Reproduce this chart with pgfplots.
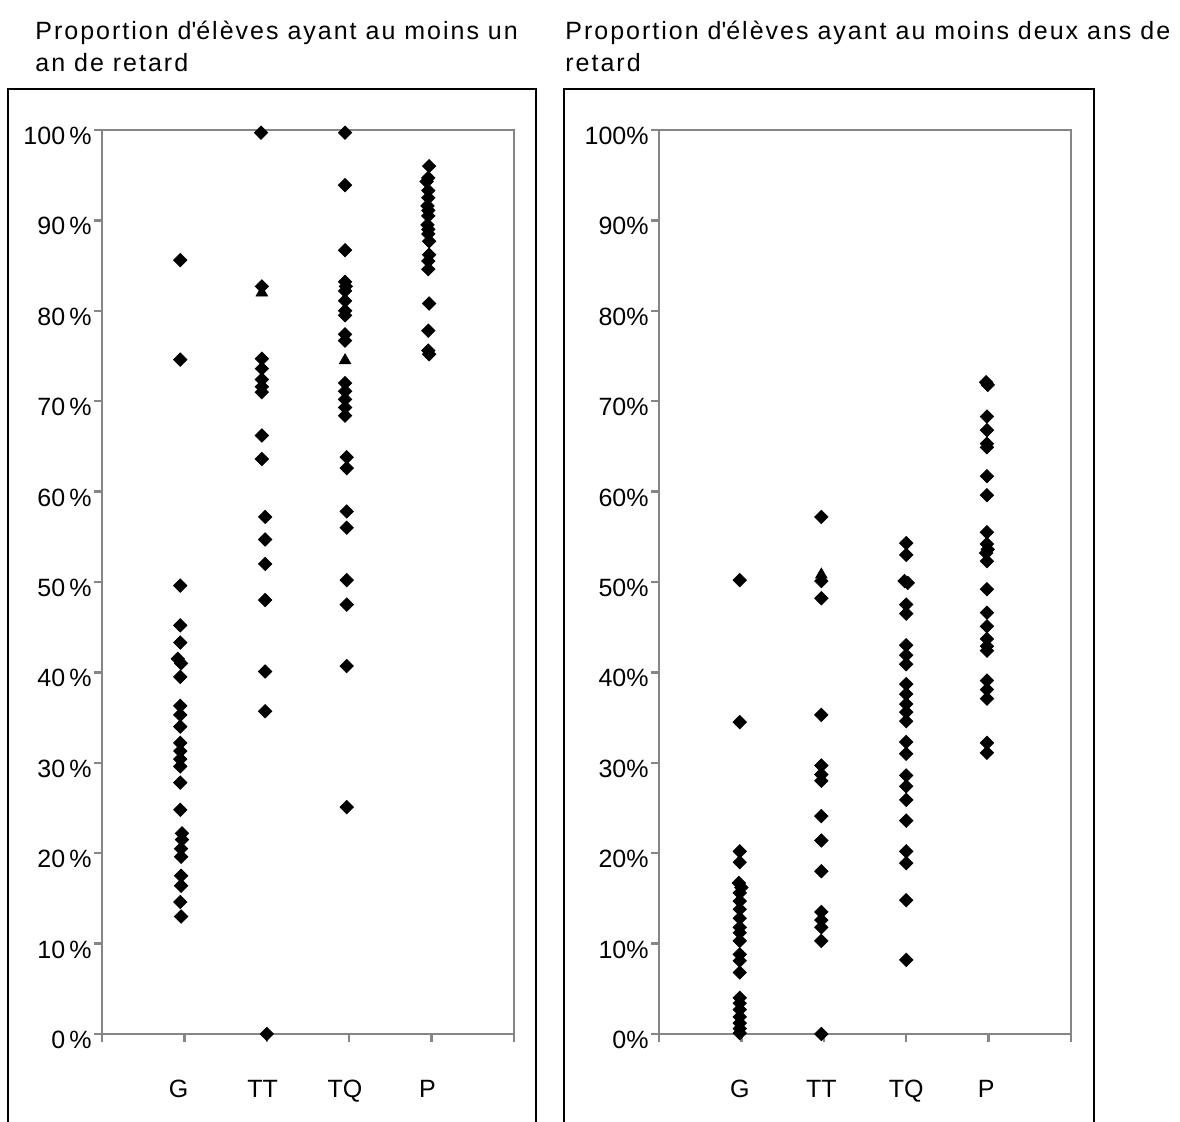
\documentclass[border=0pt]{standalone}
\usepackage{pgfplots}
\pgfplotsset{compat=1.18}
\usepackage{fontspec}
\setmainfont{Liberation Sans}
\newfontfamily\titlefont[LetterSpace=8]{Liberation Sans}
\definecolor{axgray}{HTML}{868686}
\pgfplotsset{
  panel/.style={
    scale only axis, width=206pt, height=452pt,
    xmin=0, xmax=5, ymin=0, ymax=100,
    clip=false,
    axis line style={axgray, line width=1.2pt},
    tick style={axgray, line width=1.2pt},
    tick align=outside, major tick length=4pt,
    xtick pos=left, ytick pos=left,
    xtick={0,1,2,3,4,5}, xticklabels={},
    extra x ticks={0.93,1.95,2.95,3.95},
    extra x tick labels={G,TT,TQ,P},
    extra x tick style={major tick length=0pt, xticklabel style={yshift=-19.5pt}},
    ytick={0,10,...,100},
    yticklabel style={yshift=-3pt, inner sep=1pt},
    font=\fontsize{12.5}{15}\selectfont,
    ticklabel style={font=\fontsize{12.5}{15}\selectfont},
  },
  dia/.style={only marks, mark=square*, mark size=2.35pt, mark options={rotate=45, fill=black, draw=black}},
  tri/.style={only marks, mark=triangle*, mark size=3.3pt, mark options={fill=black, draw=black}},
}
\begin{document}
\begin{tikzpicture}
\useasboundingbox (0,0) rectangle (590pt,561pt);
% outer frames
\draw[black, line width=1pt] (4pt,-2pt) -- (4pt,516.5pt) -- (268pt,516.5pt) -- (268pt,-2pt);
\draw[black, line width=1pt] (282pt,-2pt) -- (282pt,516.5pt) -- (547pt,516.5pt) -- (547pt,-2pt);
% titles
\node[anchor=base west, inner sep=0pt, font=\titlefont\fontsize{12.5}{15}\selectfont] at (17.5pt,541pt) {Proportion d\textquotesingle élèves ayant au moins un};
\node[anchor=base west, inner sep=0pt, font=\titlefont\fontsize{12.5}{15}\selectfont] at (17.5pt,525pt) {an de retard};
\node[anchor=base west, inner sep=0pt, font=\titlefont\fontsize{12.5}{15}\selectfont] at (282.5pt,541pt) {Proportion d\textquotesingle élèves ayant au moins deux ans de};
\node[anchor=base west, inner sep=0pt, font=\titlefont\fontsize{12.5}{15}\selectfont] at (282.5pt,525pt) {retard};

\begin{axis}[panel, at={(51pt,44pt)}, anchor=south west,
  yticklabels={0\,\%,10\,\%,20\,\%,30\,\%,40\,\%,50\,\%,60\,\%,70\,\%,80\,\%,90\,\%,100\,\%}]
\addplot[dia] coordinates {
(0.95,85.6) (0.95,74.6) (0.95,49.6) (0.95,45.2) (0.95,43.3) (0.92,41.5) (0.96,41.0)
(0.95,39.5) (0.95,36.3) (0.95,35.3) (0.95,34.0) (0.95,32.2) (0.95,31.3) (0.95,30.4)
(0.95,29.6) (0.95,27.8) (0.95,24.8) (0.97,22.2) (0.97,21.5) (0.96,20.5) (0.96,19.6)
(0.96,17.5) (0.96,16.4) (0.95,14.6) (0.96,13.0)};
\addplot[dia] coordinates {
(1.93,99.7) (1.94,82.7) (1.94,74.7) (1.94,73.6) (1.94,72.4) (1.94,71.6) (1.94,71.0)
(1.94,66.2) (1.94,63.6) (1.98,57.2) (1.98,54.7) (1.98,52.0) (1.98,48.0) (1.98,40.1)
(1.98,35.7) (2.0,0.0)};
\addplot[tri] coordinates {(1.94,82.0)};
\addplot[dia] coordinates {
(2.95,99.7) (2.95,93.9) (2.95,86.7) (2.95,83.2) (2.96,82.7) (2.95,82.2) (2.95,81.1)
(2.95,80.0) (2.95,79.5) (2.95,77.4) (2.95,76.7) (2.95,72.0) (2.95,71.1) (2.95,70.2)
(2.95,69.3) (2.95,68.4) (2.97,63.8) (2.97,62.6) (2.97,57.8) (2.97,56.0) (2.97,50.2)
(2.97,47.5) (2.97,40.7) (2.97,25.1)};
\addplot[tri] coordinates {(2.95,74.5)};
\addplot[dia] coordinates {
(3.97,96.0) (3.96,94.7) (3.94,94.3) (3.96,93.3) (3.96,92.5) (3.95,91.6) (3.96,91.1)
(3.96,90.5) (3.95,89.5) (3.96,89.0) (3.96,88.5) (3.97,87.7) (3.97,86.2) (3.96,85.5)
(3.96,84.6) (3.97,80.8) (3.96,77.8) (3.96,75.6) (3.97,75.2)};
\end{axis}

\begin{axis}[panel, at={(329.5pt,44pt)}, anchor=south west,
  extra x ticks={0.98,1.97,3.0,3.97},
  yticklabels={0\%,10\%,20\%,30\%,40\%,50\%,60\%,70\%,80\%,90\%,100\%}]
\addplot[dia] coordinates {
(0.98,50.2) (0.98,34.5) (0.98,20.2) (0.98,19.0) (0.97,16.7) (1.0,16.2) (0.98,15.6)
(0.98,14.7) (0.98,13.8) (0.98,12.8) (0.98,11.8) (0.98,11.2) (0.98,10.3) (0.98,8.8)
(0.98,8.1) (0.98,6.8) (0.98,4.0) (0.98,3.4) (0.98,2.7) (0.98,1.9) (0.98,1.2)
(0.98,0.6) (0.98,0.1)};
\addplot[dia] coordinates {
(1.97,57.2) (1.97,50.1) (1.97,48.2) (1.97,35.3) (1.97,29.7) (1.97,28.7) (1.97,28.0)
(1.97,24.1) (1.97,21.4) (1.97,18.0) (1.97,13.5) (1.97,12.6) (1.97,11.8) (1.97,10.3)
(1.97,0.0)};
\addplot[tri] coordinates {(1.97,50.8)};
\addplot[dia] coordinates {
(3.0,54.3) (3.0,53.0) (2.98,50.1) (3.02,49.9) (3.0,47.5) (3.0,46.5) (3.0,43.0)
(3.0,41.9) (3.0,40.9) (3.0,38.7) (3.0,37.6) (3.0,36.5) (3.0,35.6) (3.0,34.6)
(3.0,32.3) (3.0,31.0) (3.0,28.6) (3.0,27.4) (3.0,25.9) (3.0,23.6) (3.0,20.2)
(3.0,18.9) (3.0,14.8) (3.0,8.2)};
\addplot[dia] coordinates {
(3.97,72.1) (3.99,71.8) (3.98,68.3) (3.98,66.8) (3.98,65.3) (3.98,64.9) (3.98,61.7)
(3.98,59.6) (3.98,55.5) (3.98,54.2) (3.99,53.6) (3.97,53.2) (3.98,52.3) (3.98,49.2)
(3.98,46.6) (3.98,45.1) (3.98,43.7) (3.98,42.9) (3.98,42.4) (3.98,39.1) (3.98,38.1)
(3.98,37.1) (3.98,32.2) (3.98,31.1)};
\end{axis}
\end{tikzpicture}
\end{document}
